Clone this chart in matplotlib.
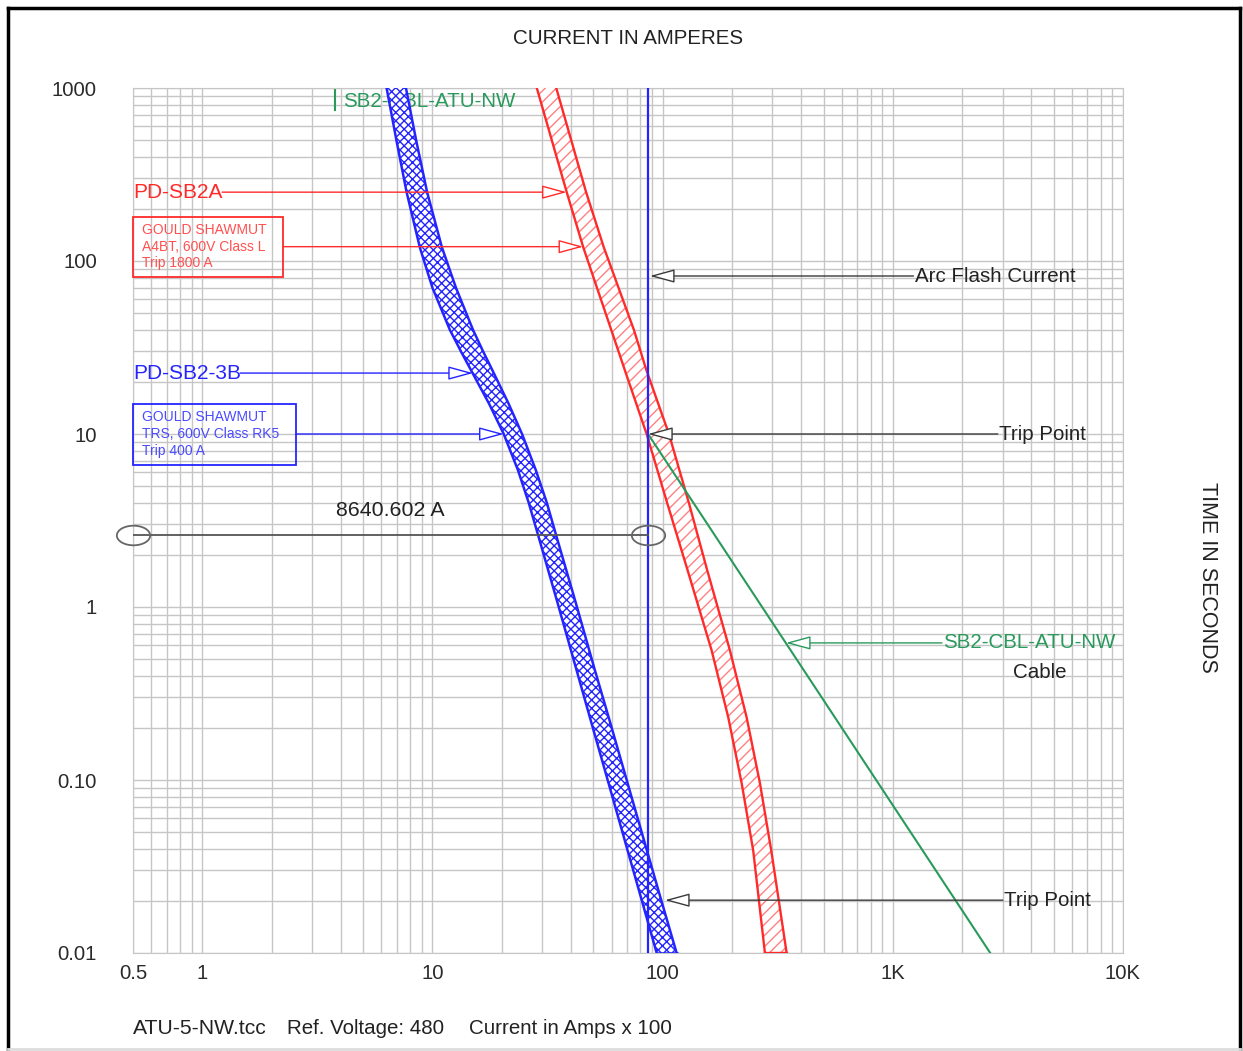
import matplotlib
matplotlib.use("Agg")
import matplotlib.pyplot as plt
from matplotlib.ticker import FixedLocator, LogLocator, NullFormatter, FixedFormatter
from matplotlib.path import Path
from matplotlib.transforms import Affine2D
from matplotlib.patches import Rectangle
from matplotlib.lines import Line2D

plt.rcParams['font.family'] = ['Liberation Sans', 'DejaVu Sans']
plt.rcParams['hatch.linewidth'] = 1.0

# --- DATOS ---
x_ticks = [0.5, 1, 10, 100, 1000, 10000]
x_labels = ["0.5", "1", "10", "100", "1K", "10K"]
y_ticks = [0.01, 0.1, 1, 10, 100, 1000]
y_labels = ["0.01", "0.10", "1", "10", "100", "1000"]

# PD-SB2-3B (banda azul), corriente en A x 100
t_3b = [1000, 500, 250, 120, 70, 40, 30, 23.4, 15, 10, 6.2, 4, 2.55, 1.05, 0.43, 0.23, 0.096, 0.039, 0.02, 0.01]
i_3b_min = [6.32, 6.97, 7.72, 8.81, 10.0, 11.9, 13.3, 14.7, 17.6, 20.4, 23.5, 26.2, 28.9,
            35.0, 42.3, 48.3, 58.2, 70.5, 81.3, 94.2]
i_3b_max = [7.67, 8.49, 9.48, 10.99, 12.65, 15.0, 16.6, 18.2, 21.4, 24.5, 28.1, 31.4, 34.6,
            42.0, 50.8, 58.3, 70.4, 85.5, 98.8, 115.0]

# PD-SB2A (banda roja)
t_2a = [1000, 250, 120, 40, 23.4, 10, 4.0, 1.64, 0.56, 0.23, 0.096, 0.039, 0.01]
i_2a_min = [28.4, 38.3, 45.2, 59.8, 68.5, 85.2, 104.6, 128.2, 163.3, 192.8, 220.4, 247.5, 278.2]
i_2a_max = [34.5, 46.5, 55.5, 75.0, 85.0, 106.5, 130.0, 156.0, 196.1, 231.7, 264.6, 296.5, 345.7]

# SB2-CBL-ATU-NW (cable)
t_cbl = [10, 0.01]
i_cbl = [86.4, 2650]

arc_flash_amps = 8640.602
arc_flash_t = 2.6

ROJO = '#ff2a2a'
AZUL = '#2424ff'
VERDE = '#2a9a5c'
GRIS = '#3a3a3a'
TXT = '#222222'
FS = 14.8

fig = plt.figure(figsize=(12.43, 10.51), dpi=100)
ax = fig.add_axes([133/1243, 98/1051, 990/1243, 865/1051])
ax.set_xscale('log')
ax.set_yscale('log')
ax.set_xlim(0.5, 10000)
ax.set_ylim(0.01, 1000)

ax.xaxis.set_major_locator(FixedLocator(x_ticks))
ax.xaxis.set_major_formatter(FixedFormatter(x_labels))
ax.yaxis.set_major_locator(FixedLocator(y_ticks))
ax.yaxis.set_major_formatter(FixedFormatter(y_labels))
ax.xaxis.set_minor_locator(LogLocator(base=10, subs=range(2, 10), numticks=20))
ax.yaxis.set_minor_locator(LogLocator(base=10, subs=range(2, 10), numticks=20))
ax.xaxis.set_minor_formatter(NullFormatter())
ax.yaxis.set_minor_formatter(NullFormatter())
ax.grid(which='both', color='#c6c6c6', lw=1.0)
ax.set_axisbelow(True)
ax.tick_params(which='both', length=0, labelsize=14.6, labelcolor='#2a2a2a')
ax.tick_params(axis='y', pad=26)
ax.tick_params(axis='x', pad=8)
for s in ax.spines.values():
    s.set_color('#c6c6c6')

# bandas
ax.fill_betweenx(t_3b, i_3b_min, i_3b_max, facecolor='white', edgecolor=AZUL, hatch='xxxx', lw=0, zorder=3)
ax.plot(i_3b_min, t_3b, color=AZUL, lw=1.8, zorder=4)
ax.plot(i_3b_max, t_3b, color=AZUL, lw=1.8, zorder=4)
ax.plot([i_3b_min[-1], i_3b_max[-1]], [t_3b[-1]] * 2, color=AZUL, lw=1.8, zorder=4)

ax.fill_betweenx(t_2a, i_2a_min, i_2a_max, facecolor='white', edgecolor='#ff8080', hatch='///', lw=0, zorder=3)
ax.plot(i_2a_min, t_2a, color=ROJO, lw=1.7, zorder=4)
ax.plot(i_2a_max, t_2a, color=ROJO, lw=1.7, zorder=4)
ax.plot([i_2a_min[-1], i_2a_max[-1]], [t_2a[-1]] * 2, color=ROJO, lw=1.7, zorder=4)

# cable
ax.plot(i_cbl, t_cbl, color=VERDE, lw=1.5, zorder=5)

# corriente de arco
arc_x = arc_flash_amps / 100
ax.axvline(arc_x, color=AZUL, lw=1.6, zorder=5)
ax.plot([0.5, arc_x], [arc_flash_t] * 2, color='#555555', lw=1.3, zorder=5)
elipse = Path.unit_circle().transformed(Affine2D().scale(1.7, 1.0))
ax.plot([0.5, arc_x], [arc_flash_t] * 2, ls='none', marker=elipse, ms=24, mfc='none',
        mec='#666666', mew=1.3, clip_on=False, zorder=6)
ax.text(6.53, 3.59, f"{arc_flash_amps} A", fontsize=15.4, color=TXT, ha='center', va='center')


def flecha(x0, x1, y, color):
    ax.annotate("", xy=(x1, y), xytext=(x0, y), zorder=6,
                arrowprops=dict(arrowstyle='-|>,head_length=1.1,head_width=0.3', fc='white',
                                ec=color, lw=1.0, shrinkA=0, shrinkB=0, mutation_scale=14))


# PD-SB2A
ax.text(0.5, 250, "PD-SB2A", fontsize=15, color=ROJO, ha='left', va='center', zorder=7)
flecha(1.22, 38.3, 250, ROJO)
ax.add_patch(Rectangle((0.5, 80.8), 2.245 - 0.5, 179.6 - 80.8, fill=False, ec=ROJO, lw=1.3, zorder=7, clip_on=False))
ax.text(0.547, 121, "GOULD SHAWMUT\nA4BT, 600V Class L\nTrip 1800 A", fontsize=10, color='#ff5050',
        ha='left', va='center', linespacing=1.25, zorder=7)
flecha(2.245, 45.2, 121, ROJO)

# PD-SB2-3B
ax.text(0.5, 22.5, "PD-SB2-3B", fontsize=15, color=AZUL, ha='left', va='center', zorder=7)
flecha(1.46, 15.0, 22.5, AZUL)
ax.add_patch(Rectangle((0.5, 6.62), 2.55 - 0.5, 14.9 - 6.62, fill=False, ec=AZUL, lw=1.3, zorder=7, clip_on=False))
ax.text(0.547, 10, "GOULD SHAWMUT\nTRS, 600V Class RK5\nTrip 400 A", fontsize=10, color='#4a4aff',
        ha='left', va='center', linespacing=1.25, zorder=7)
flecha(2.55, 20.4, 10, AZUL)

# cable label arriba
ax.plot([3.77, 3.77], [1000, 746], color=VERDE, lw=1.5, zorder=2)
ax.text(4.08, 841, "SB2-CBL-ATU-NW", fontsize=FS, color=VERDE, ha='left', va='center', zorder=2)

# etiquetas a la derecha
ax.text(1250, 81.9, "Arc Flash Current", fontsize=FS, color=TXT, ha='left', va='center', zorder=7)
flecha(1230, 88, 81.9, GRIS)
ax.text(2880, 10, "Trip Point", fontsize=FS, color=TXT, ha='left', va='center', zorder=7)
flecha(2860, 86.4, 10, GRIS)
ax.text(1650, 0.62, "SB2-CBL-ATU-NW", fontsize=FS, color=VERDE, ha='left', va='center', zorder=7)
ax.text(4355, 0.42, "Cable", fontsize=FS, color=TXT, ha='center', va='center', zorder=7)
flecha(1634, 343, 0.62, VERDE)
ax.text(3030, 0.0202, "Trip Point", fontsize=FS, color=TXT, ha='left', va='center', zorder=7)
flecha(3008, 102.3, 0.0202, GRIS)

# textos de la figura
fig.text(628/1243, 1 - 39/1051, "CURRENT IN AMPERES", fontsize=FS, color=TXT, ha='center', va='center')
fig.text(1207/1243, 1 - 577/1051, "TIME IN SECONDS", fontsize=15.5, color=TXT, ha='center', va='center',
         rotation=270)
fig.text(133/1243, 1 - 1028/1051, "ATU-5-NW.tcc", fontsize=15.2, color=TXT, ha='left', va='center')
fig.text(287/1243, 1 - 1028/1051, "Ref. Voltage: 480", fontsize=FS, color=TXT, ha='left', va='center')
fig.text(469/1243, 1 - 1028/1051, "Current in Amps x 100", fontsize=FS, color=TXT, ha='left', va='center')

# marco
fig.add_artist(Line2D([8/1243, 8/1243], [0, 1 - 8/1051], color='black', lw=2.5))
fig.add_artist(Line2D([8/1243, 1240/1243], [1 - 8/1051, 1 - 8/1051], color='black', lw=2.5))
fig.add_artist(Line2D([1240/1243, 1240/1243], [0, 1 - 8/1051], color='black', lw=2.5))
fig.add_artist(Line2D([8/1243, 1240/1243], [2.5/1051, 2.5/1051], color='#dddddd', lw=2))

fig.savefig("out.png", dpi=100)
plt.close(fig)
